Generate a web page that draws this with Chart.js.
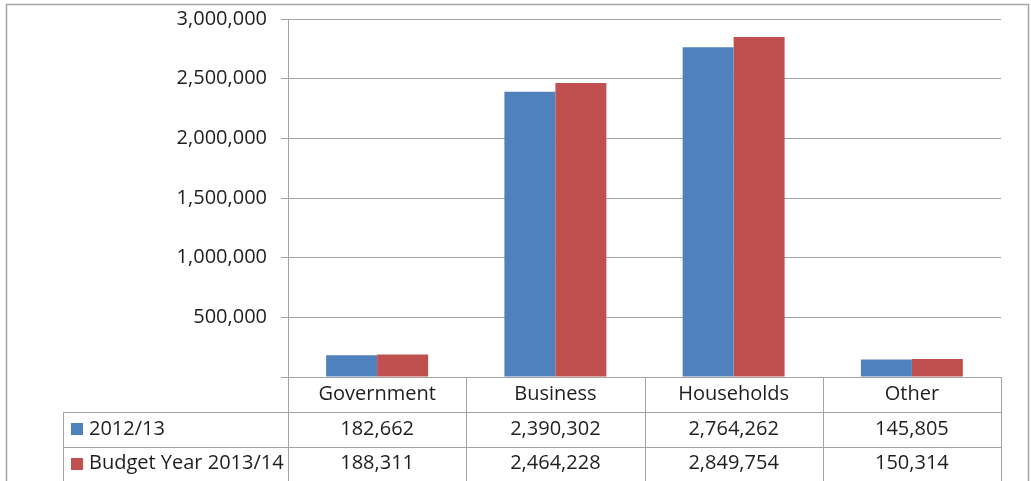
<!DOCTYPE html>
<html>
<head>
<meta charset="utf-8">
<title>2012/13 vs Budget Year 2013/14</title>
<script src="https://cdn.jsdelivr.net/npm/chart.js@4/dist/chart.umd.min.js"></script>
<style>
    html, body { margin: 0; padding: 0; background: #fff; }
    #wrap { position: relative; width: 1031px; height: 481px; }
</style>
</head>
<body>
<div id="wrap"><canvas id="budgetChart" width="1031" height="481"></canvas></div>
<script>
// --- DATA ---
const categories = ['Government', 'Business', 'Households', 'Other'];
const seriesNames = ['2012/13', 'Budget Year 2013/14'];
const values2012 = [182662, 2390302, 2764262, 145805];
const valuesBudget = [188311, 2464228, 2849754, 150314];
const yTicks = [0, 500000, 1000000, 1500000, 2000000, 2500000, 3000000];

const COLORS = ['#4F81BD', '#C0504D'];
const LINE = '#a3a3a3';
const TEXT = '#1e1e1e';
const FONT = '"Open Sans", sans-serif';

Chart.defaults.font.family = FONT;
Chart.defaults.font.size = 20;
Chart.defaults.color = TEXT;

// Excel-style frame around the whole chart
const framePlugin = {
    id: 'frame',
    beforeDraw(chart) {
        const ctx = chart.ctx;
        ctx.save();
        ctx.strokeStyle = LINE;
        ctx.lineWidth = 1.5;
        ctx.strokeRect(6.5, 4.5, 1022, 520);
        ctx.restore();
    }
};

// data table under the x axis, built from the same arrays
const dataTablePlugin = {
    id: 'dataTable',
    afterDraw(chart) {
        const ctx = chart.ctx;
        const area = chart.chartArea;
        const x = chart.scales.x;
        const colW = (area.right - area.left) / categories.length;
        const bottom = Math.round(area.bottom);
        const rowTops = [bottom, bottom + 35, bottom + 69.5];
        const tableLeft = 63;
        const H = chart.height;

        ctx.save();
        ctx.strokeStyle = LINE;
        ctx.lineWidth = 1;

        // vertical dividers
        for (let i = 0; i <= categories.length; i++) {
            const px = Math.round(area.left + i * colW) + 0.5;
            ctx.beginPath();
            ctx.moveTo(px, bottom);
            ctx.lineTo(px, H);
            ctx.stroke();
        }
        ctx.beginPath();
        ctx.moveTo(tableLeft + 0.5, rowTops[1]);
        ctx.lineTo(tableLeft + 0.5, H);
        ctx.stroke();

        // row lines
        [rowTops[1], rowTops[2]].forEach(ry => {
            const py = Math.round(ry) + 0.5;
            ctx.beginPath();
            ctx.moveTo(tableLeft, py);
            ctx.lineTo(area.right, py);
            ctx.stroke();
        });

        ctx.fillStyle = TEXT;
        ctx.font = '20px ' + FONT;
        ctx.textBaseline = 'middle';

        // header row
        ctx.textAlign = 'center';
        categories.forEach((c, i) => {
            ctx.fillText(c, x.getPixelForValue(i), bottom + 17);
        });

        // series rows
        const rows = [values2012, valuesBudget];
        rows.forEach((vals, r) => {
            const cy = rowTops[r + 1] + 17;
            ctx.fillStyle = COLORS[r];
            ctx.fillRect(71, Math.round(cy) - 6, 12, 12);
            ctx.fillStyle = TEXT;
            ctx.textAlign = 'left';
            ctx.fillText(seriesNames[r], 89, cy);
            ctx.textAlign = 'center';
            vals.forEach((v, i) => {
                ctx.fillText(v.toLocaleString('en-US'), x.getPixelForValue(i), cy);
            });
        });
        ctx.restore();
    }
};

new Chart(document.getElementById('budgetChart'), {
    type: 'bar',
    data: {
        labels: categories,
        datasets: [
            { label: seriesNames[0], data: values2012, backgroundColor: COLORS[0] },
            { label: seriesNames[1], data: valuesBudget, backgroundColor: COLORS[1] }
        ]
    },
    options: {
        responsive: false,
        animation: false,
        layout: { padding: { left: 0, top: 19, right: 30, bottom: 104 } },
        datasets: { bar: { categoryPercentage: 0.572, barPercentage: 1 } },
        plugins: {
            legend: { display: false },
            tooltip: { enabled: false }
        },
        scales: {
            x: {
                ticks: { display: false },
                grid: { display: false },
                border: { display: true, color: LINE, width: 1 },
                afterFit(scale) { scale.height = 0; }
            },
            y: {
                min: 0,
                max: 3000000,
                afterBuildTicks(scale) {
                    scale.ticks = yTicks.map(v => ({ value: v }));
                },
                afterFit(scale) {
                    scale.width = 288;
                    scale.paddingTop = 0;
                    scale.paddingBottom = 0;
                },
                ticks: {
                    padding: 14,
                    color: TEXT,
                    callback: v => v === 0 ? '' : v.toLocaleString('en-US')
                },
                grid: { color: LINE, tickLength: 7, lineWidth: 1 },
                border: { display: true, color: LINE, width: 1 }
            }
        }
    },
    plugins: [framePlugin, dataTablePlugin]
});
</script>
</body>
</html>
